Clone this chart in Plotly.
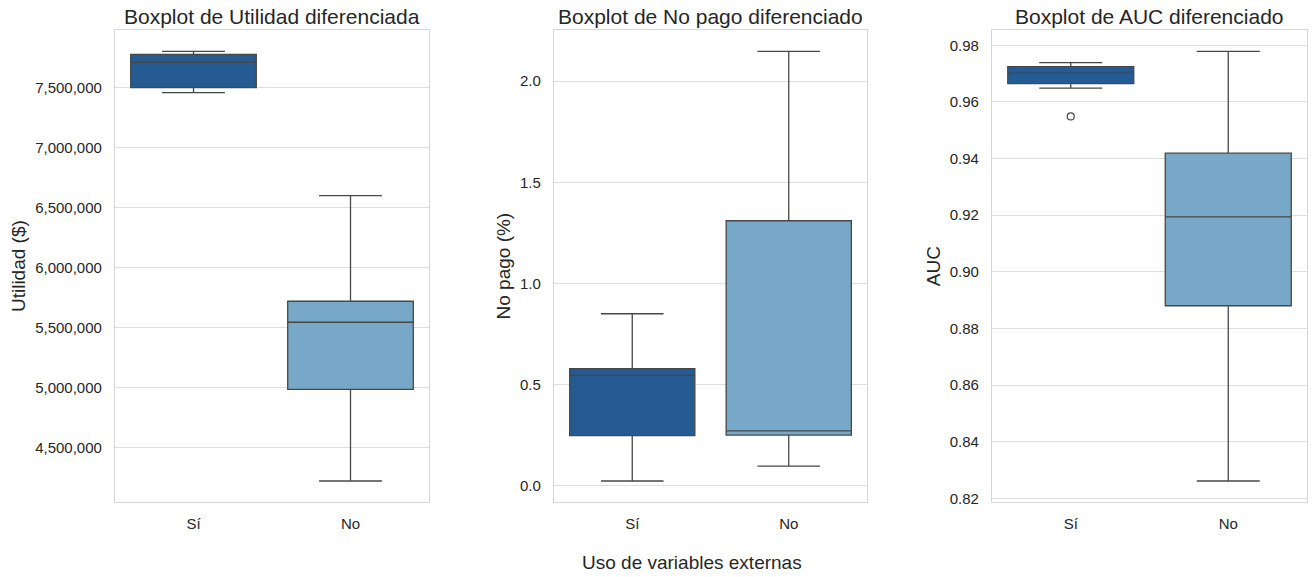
import plotly.graph_objects as go

categories = ["Sí", "No"]
colors = ["#245b92", "#78a8c8"]
edge = "#474747"

# Utilidad ($)
util_q1 = [7497000, 4983000]
util_med = [7708000, 5542000]
util_q3 = [7775000, 5717000]
util_lo = [7455000, 4219000]
util_hi = [7800000, 6597000]

# No pago (%)
nop_q1 = [0.247, 0.250]
nop_med = [0.546, 0.271]
nop_q3 = [0.579, 1.310]
nop_lo = [0.023, 0.097]
nop_hi = [0.850, 2.148]

# AUC
auc_q1 = [0.9665, 0.8880]
auc_med = [0.9702, 0.9194]
auc_q3 = [0.9725, 0.9419]
auc_lo = [0.9649, 0.8261]
auc_hi = [0.9739, 0.9779]
auc_outlier_cat = ["Sí"]
auc_outlier_val = [0.9549]

titles = ["Boxplot de Utilidad diferenciada", "Boxplot de No pago diferenciado", "Boxplot de AUC diferenciado"]
ylabels = ["Utilidad ($)", "No pago (%)", "AUC"]

W, H = 1314, 577
FONT = "Liberation Sans, Arial, sans-serif"
TXT = "#262626"

panels = [
    (util_q1, util_med, util_q3, util_lo, util_hi),
    (nop_q1, nop_med, nop_q3, nop_lo, nop_hi),
    (auc_q1, auc_med, auc_q3, auc_lo, auc_hi),
]
xpix = [(115, 429), (554, 867), (992, 1307)]
ytop, ybot = 30, 506

fig = go.Figure()
for p, (q1, med, q3, lo, hi) in enumerate(panels):
    ax = "" if p == 0 else str(p + 1)
    for i, cat in enumerate(categories):
        fig.add_trace(go.Box(
            x=[cat], q1=[q1[i]], median=[med[i]], q3=[q3[i]],
            lowerfence=[lo[i]], upperfence=[hi[i]],
            fillcolor=colors[i], line=dict(color=edge, width=1.3),
            width=0.8, whiskerwidth=0.5, boxpoints=False,
            xaxis="x" + ax, yaxis="y" + ax, showlegend=False,
        ))

fig.add_trace(go.Scatter(
    x=auc_outlier_cat, y=auc_outlier_val, mode="markers",
    marker=dict(symbol="circle-open", size=7, color=edge, line=dict(width=1.2)),
    xaxis="x3", yaxis="y3", showlegend=False,
))

def yrange(lo, hi):
    mn, mx = min(lo), max(hi)
    pad = (mx - mn) * 0.05
    return [mn - pad, mx + pad]

tickfmts = [",d", ".1f", ".2f"]
dticks = [500000, 0.5, 0.02]
layout = dict(
    width=W, height=H, margin=dict(l=0, r=0, t=0, b=0),
    paper_bgcolor="white", plot_bgcolor="white",
    font=dict(family=FONT, color=TXT, size=15),
    boxmode="overlay",
)
annotations = []
for p, (q1, med, q3, lo, hi) in enumerate(panels):
    ax = "" if p == 0 else str(p + 1)
    x0, x1 = xpix[p]
    layout["xaxis" + ax] = dict(
        domain=[x0 / W, x1 / W], anchor="y" + ax,
        categoryorder="array", categoryarray=categories,
        range=[-0.5, 1.5], showgrid=False,
        showline=True, linecolor="#d6d6d6", linewidth=1.2, mirror=True,
        ticks="outside", ticklen=7, tickcolor="rgba(0,0,0,0)",
        tickfont=dict(size=15, color=TXT), zeroline=False,
    )
    layout["yaxis" + ax] = dict(
        domain=[1 - ybot / H, 1 - ytop / H], anchor="x" + ax,
        range=yrange(lo, hi), tickformat=tickfmts[p], dtick=dticks[p],
        showgrid=True, gridcolor="#dedede", gridwidth=1.2,
        showline=True, linecolor="#d6d6d6", linewidth=1.2, mirror=True,
        ticks="outside", ticklen=9, tickcolor="rgba(0,0,0,0)",
        tickfont=dict(size=15, color=TXT), zeroline=False,
        title=dict(text=ylabels[p], font=dict(size=19, color=TXT), standoff=4),
    )
    annotations.append(dict(
        text=titles[p], x=(x0 + x1) / 2 / W, y=1 - 17 / H, xref="paper", yref="paper",
        xanchor="center", yanchor="middle", showarrow=False,
        font=dict(size=21, color=TXT),
    ))
annotations.append(dict(
    text="Uso de variables externas", x=692 / W, y=1 - 566 / H, xref="paper", yref="paper",
    xanchor="center", yanchor="middle", showarrow=False, font=dict(size=19, color=TXT),
))
layout["annotations"] = annotations
fig.update_layout(**layout)
fig.write_html(
    "out.html",
    config={"displayModeBar": False},
    post_script="document.body.style.margin='0';document.body.style.overflow='hidden';",
)
